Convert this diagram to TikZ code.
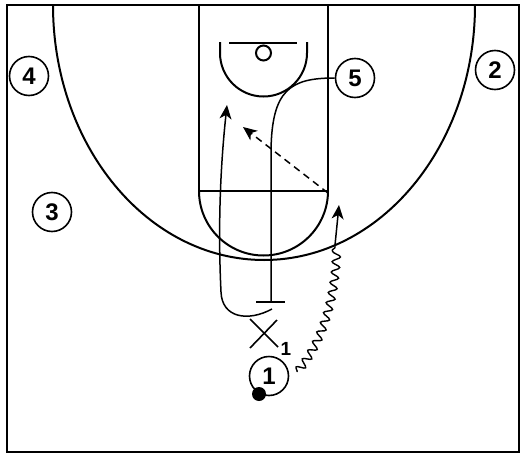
\documentclass[tikz,border=0pt]{standalone}
\usepackage{fontspec}
\setmainfont{Liberation Sans}
\usetikzlibrary{arrows.meta,decorations.pathmorphing}
\begin{document}
\begin{tikzpicture}[x=1pt,y=-1pt,
  court/.style={line width=2pt},
  player/.style={circle,draw,line width=1.6pt,minimum size=39pt,inner sep=0pt,
    font=\bfseries\fontsize{24}{24}\selectfont},
  tip/.style={-{Stealth[length=14pt,width=12pt,inset=4pt]}},
  movepath/.style={line width=1.5pt},
  passpath/.style={line width=1.5pt,dash pattern=on 7pt off 5pt},
  dribble/.style={line width=1.4pt,decorate,decoration={snake,amplitude=4pt,segment length=10.5pt}},
  defender/.style={line width=1.6pt}
]
\useasboundingbox (0,0) rectangle (525,458);
% court
\draw[court] (7,5) rectangle (519,452);
\draw[court] (199,5) -- (199,191) -- (328,191) -- (328,5);
\draw[court] (199,191) arc[start angle=180,end angle=0,radius=64.5];
\draw[court] (53,5) arc[start angle=180,end angle=0,x radius=211,y radius=255];
\draw[court] (220,42) -- (220,53) arc[start angle=180,end angle=0,radius=43.5] -- (307,42);
\draw[court] (229,43) -- (297,43);
\draw[court] (263.5,53) circle[radius=7.5];
% players
\node[player] (p4) at (29,76) {4};
\node[player] (p2) at (495,70) {2};
\node[player] (p3) at (52,212) {3};
\node[player] (p5) at (355,78) {5};
\node[player] (p1) at (269,376) {1};
\node[circle,fill,inner sep=0pt,minimum size=14pt] (ball) at (259,394) {};
% defender X1
\coordinate (x1) at (264,333);
\draw[defender] ([shift={(-14,-14)}]x1) -- ([shift={(14,14)}]x1);
\draw[defender] ([shift={(-14,15)}]x1) -- ([shift={(13,-13)}]x1);
\node[font=\bfseries\fontsize{19}{19}\selectfont] (x1lab) at (286,349) {1};
% cut of player 1
\coordinate (cutstart) at (272,309);
\coordinate (cutbend) at (221,292);
\coordinate (cutend) at (227,105);
\draw[movepath,tip] (cutstart) .. controls (248,322) and (222,318) .. (cutbend)
  .. controls (218,230) and (220,170) .. (cutend);
% screen by 5
\coordinate (scrbend) at (271,150);
\coordinate (scrend) at (271,302);
\coordinate (barl) at (256,302);
\coordinate (barr) at (285,302);
\draw[movepath] (p5.west) .. controls (290,78) and (272,90) .. (scrbend) -- (scrend);
\draw[movepath] (barl) -- (barr);
% pass
\coordinate (passstart) at (328,193);
\coordinate (passend) at (243,127);
\draw[passpath,tip] (passstart) -- (passend);
% dribble
\coordinate (drstart) at (297,372);
\coordinate (drmid) at (335,245);
\coordinate (drend) at (339,205);
\draw[dribble] (drstart) .. controls (320,345) and (335,300) .. (drmid);
\draw[movepath,tip] (drmid) -- (drend);
\end{tikzpicture}
\end{document}
